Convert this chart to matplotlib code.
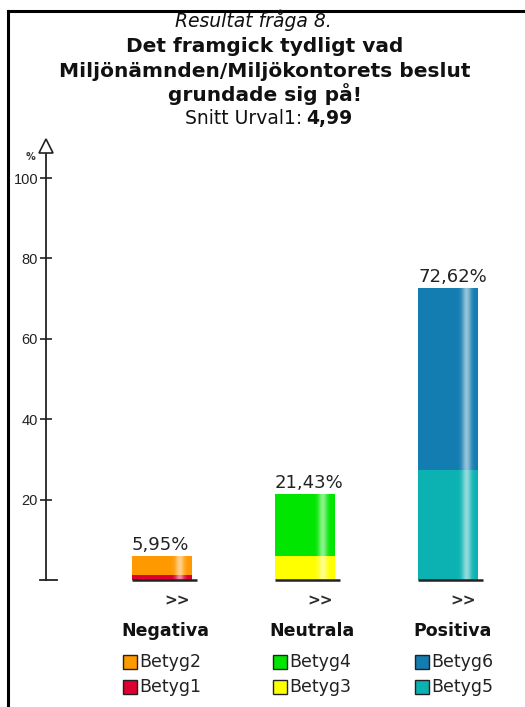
import numpy as np
import matplotlib
matplotlib.use("Agg")
import matplotlib.pyplot as plt
from matplotlib.lines import Line2D
from matplotlib.patches import Rectangle

# ---- data ----
categories = ["Negativa", "Neutrala", "Positiva"]
low_labels = ["Betyg1", "Betyg3", "Betyg5"]
low_values = [1.19, 5.95, 27.38]
high_labels = ["Betyg2", "Betyg4", "Betyg6"]
high_values = [4.76, 15.48, 45.24]
low_colors = ["#DD0030", "#FFFF00", "#0CB2B2"]
high_colors = ["#FF9900", "#00E600", "#137CB1"]
yticks = [20, 40, 60, 80, 100]
snitt = "4,99"

W, H = 525, 707
fig = plt.figure(figsize=(W / 100, H / 100), dpi=100)

def fx(px):
    return px / W

def fy(py):
    return 1 - py / H

# frame (top and left only)
fig.add_artist(Line2D([fx(8), 1], [fy(11), fy(11)], color="black", lw=2.2))
fig.add_artist(Line2D([fx(8), fx(8)], [fy(11), 0], color="black", lw=2.2))

# titles
fig.text(fx(253), fy(27), "Resultat fråga 8.", ha="center", va="baseline",
         fontsize=13.5, style="italic", color="#111")
for txt, base in [("Det framgick tydligt vad", 52),
                  ("Miljönämnden/Miljökontorets beslut", 77),
                  ("grundade sig på!", 101)]:
    fig.text(fx(265), fy(base), txt, ha="center", va="baseline",
             fontsize=14.5, fontweight="bold", color="#111")
fig.text(fx(302), fy(124), "Snitt Urval1:", ha="right", va="baseline",
         fontsize=13.5, color="#111")
fig.text(fx(306), fy(124), snitt, ha="left", va="baseline",
         fontsize=13.5, fontweight="bold", color="#111")

# plotting area: y=0 at 580 px, 4.02 px per percent
px_per_unit = 4.02
top_px = 143
ax = fig.add_axes([fx(46), fy(580), fx(515) - fx(46), (580 - top_px) / H])
for s in ["top", "right", "bottom"]:
    ax.spines[s].set_visible(False)
ax.spines["left"].set_color("#222")
ax.spines["left"].set_linewidth(1.3)
ax.set_xticks([])
ax.set_yticks(yticks)
ax.set_yticklabels([str(t) for t in yticks], fontfamily="Liberation Sans",
                   fontsize=10.5, color="#222")
ax.tick_params(axis="y", direction="inout", length=8.5, width=1.2,
               color="#222", pad=1.5)
ax.patch.set_alpha(0)

# arrow head and bottom tick
ax.plot([0], [(580 - 146.5) / px_per_unit], marker="^", markersize=10,
        markerfacecolor="white", markeredgecolor="#222", markeredgewidth=1.2,
        transform=ax.get_yaxis_transform(), clip_on=False, zorder=5)
ax.plot([-6 / 469, 11 / 469], [0, 0], color="#222", lw=1.3,
        transform=ax.get_yaxis_transform(), clip_on=False)
fig.text(fx(30), fy(157), "%", ha="center", va="center", fontsize=7,
         fontweight="bold", color="#333")

# highlight stripe profile across a bar
t = np.linspace(0, 1, 120)
shine = 0.55 * np.exp(-((t - 0.80) / 0.075) ** 2)
shine_img = np.zeros((1, len(t), 4))
shine_img[..., :3] = 1.0
shine_img[..., 3] = shine

width = 60 / 143
x = np.arange(len(categories))
ax.bar(x, low_values, width=width, color=low_colors, linewidth=0, zorder=2)
ax.bar(x, high_values, width=width, bottom=low_values, color=high_colors,
       linewidth=0, zorder=2)
totals = [a + b for a, b in zip(low_values, high_values)]
for i, tot in enumerate(totals):
    x0, x1 = x[i] - width / 2, x[i] + width / 2
    ax.imshow(shine_img, extent=(x0, x1, 0, tot), aspect="auto",
              interpolation="bilinear", zorder=3)
    ax.plot([x0, x1 + 5 / 143], [0, 0], color="#222", lw=1.8, zorder=4,
            clip_on=False, solid_capstyle="butt")
    ax.annotate(f"{tot:.2f}%".replace(".", ","), (x0, tot),
                xytext=(0, 4.5), textcoords="offset points",
                ha="left", va="baseline", fontsize=13, color="#222")
    ax.annotate(">>", (x1 - 2 / 143, 0), xytext=(0, -15),
                textcoords="offset points", ha="right", va="center",
                fontsize=11, fontweight="bold", color="#2a2a2a",
                annotation_clip=False)
ax.set_xlim(-(162 - 46) / 143, (515 - 162) / 143)
ax.set_ylim(0, (580 - top_px) / px_per_unit)

# category names and legend entries
cat_px = [165, 312, 453]
sq_px = [123, 273, 415]
for i, name in enumerate(categories):
    fig.text(fx(cat_px[i]), fy(631), name, ha="center", va="center",
             fontsize=12.5, fontweight="heavy", color="#111")
    for row, (lab, col) in enumerate([(high_labels[i], high_colors[i]),
                                      (low_labels[i], low_colors[i])]):
        yc = 662 + row * 25
        fig.add_artist(Rectangle((fx(sq_px[i]), fy(yc + 7)), 14 / W, 14 / H,
                                 facecolor=col, edgecolor="#222", lw=1.0,
                                 transform=fig.transFigure))
        fig.text(fx(sq_px[i] + 16), fy(yc), lab, ha="left", va="center",
                 fontsize=12.5, color="#222")

fig.savefig("out.png", dpi=100)
